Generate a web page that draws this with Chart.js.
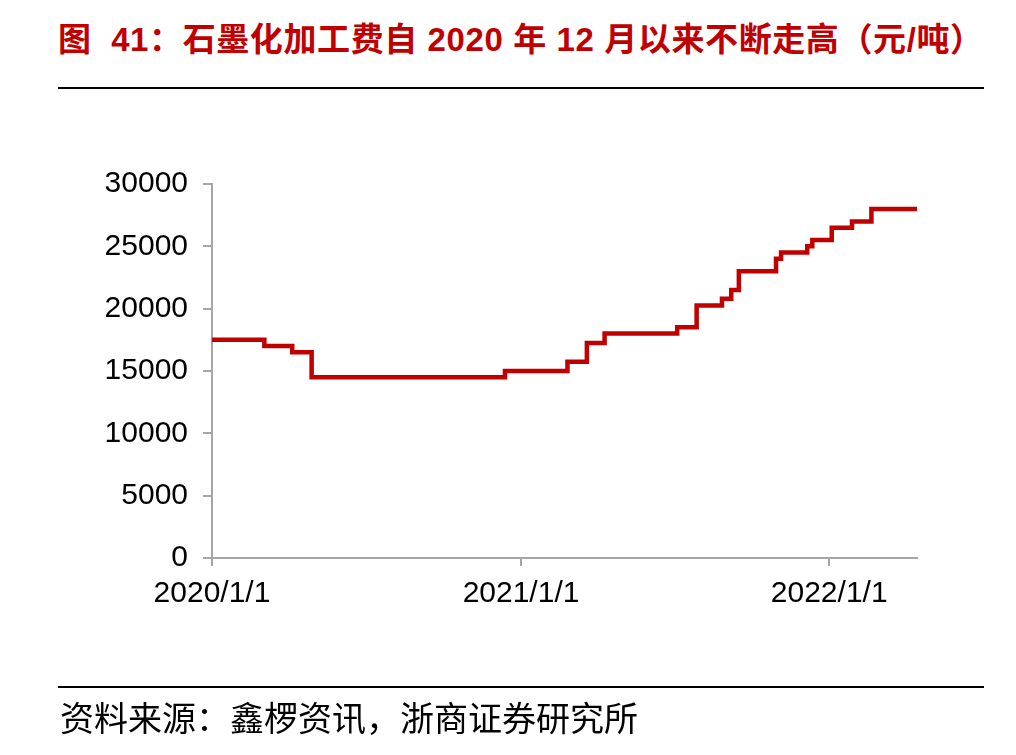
<!DOCTYPE html>
<html>
<head>
<meta charset="utf-8">
<script src="https://cdn.jsdelivr.net/npm/chart.js@4.4.1/dist/chart.umd.min.js"></script>
<style>
  html, body { margin: 0; padding: 0; background: #fff; }
  body { width: 1016px; height: 755px; position: relative; overflow: hidden; }
  #title { position: absolute; left: 58px; top: 13px; white-space: nowrap;
    font-family: "Liberation Sans", "Noto Sans CJK SC", sans-serif; font-weight: bold;
    font-size: 33px; letter-spacing: 0.6px; color: #C00000; }
  .rule { position: absolute; left: 58px; width: 926px; height: 2px; background: #000; }
  #source { position: absolute; left: 60px; top: 692px; white-space: nowrap;
    font-family: "Noto Sans CJK SC", sans-serif; font-size: 34px; color: #000; }
  #c { position: absolute; left: 0; top: 0; }
</style>
</head>
<body>
<div id="title">图&nbsp; 41：石墨化加工费自 2020 年 12 月以来不断走高（元/吨）</div>
<div class="rule" style="top:87px"></div>
<canvas id="c" width="1016" height="755"></canvas>
<div class="rule" style="top:686px"></div>
<div id="source">资料来源：鑫椤资讯，浙商证券研究所</div>
<script>
// Step change dates and the new price (元/吨) from each date
const changeDates = ['2020-01-01','2020-03-03','2020-04-05','2020-04-28','2020-12-13',
  '2021-02-25','2021-03-20','2021-04-10','2021-07-05','2021-07-28','2021-08-27',
  '2021-09-07','2021-09-16','2021-10-30','2021-11-05','2021-12-06','2021-12-12',
  '2022-01-04','2022-01-28','2022-02-20','2022-04-15'];
const prices = [17500,17000,16500,14500,15000,
  15750,17250,18000,18500,20250,20800,
  21500,23000,24000,24500,25000,25500,
  26500,27000,28000,28000];
const xTickDates = ['2020-01-01','2021-01-01','2022-01-01'];
const xTickLabels = ['2020/1/1','2021/1/1','2022/1/1'];
const yTicks = [0,5000,10000,15000,20000,25000,30000];
const xMinDate = '2020-01-01';
const xMaxDate = '2022-04-15';

const toMs = s => Date.parse(s + 'T00:00:00Z');
const points = changeDates.map((d, i) => ({ x: toMs(d), y: prices[i] }));
const xTickVals = xTickDates.map(toMs);

const axisColor = '#A6A6A6';
const tickFont = { family: '"Liberation Sans", Arial, sans-serif', size: 30 };

new Chart(document.getElementById('c'), {
  type: 'line',
  data: {
    datasets: [{
      data: points,
      stepped: 'before',
      borderColor: '#C00000',
      borderWidth: 4.5,
      pointRadius: 0,
      fill: false
    }]
  },
  options: {
    responsive: false,
    animation: false,
    events: [],
    layout: { padding: { left: 0, right: 99, top: 184, bottom: 147 } },
    plugins: { legend: { display: false }, tooltip: { enabled: false }, title: { display: false } },
    scales: {
      x: {
        type: 'linear',
        min: toMs(xMinDate),
        max: toMs(xMaxDate),
        afterBuildTicks: s => { s.ticks = xTickVals.map(v => ({ value: v })); },
        afterFit: s => { s.height = 50; },
        ticks: {
          autoSkip: false, maxRotation: 0, padding: 10,
          color: '#000', font: tickFont,
          callback: v => { const i = xTickVals.indexOf(v); return i >= 0 ? xTickLabels[i] : ''; }
        },
        grid: { drawOnChartArea: false, drawTicks: true, tickLength: 8, color: axisColor, lineWidth: 2 },
        border: { color: axisColor, width: 2 }
      },
      y: {
        min: 0, max: 30000,
        afterBuildTicks: s => { s.ticks = yTicks.map(v => ({ value: v })); },
        afterFit: s => { s.width = 212; },
        ticks: { color: '#000', font: tickFont, padding: 15, callback: v => String(v) },
        grid: { drawOnChartArea: false, drawTicks: true, tickLength: 9, color: axisColor, lineWidth: 2 },
        border: { color: axisColor, width: 2 }
      }
    }
  }
});
</script>
</body>
</html>
